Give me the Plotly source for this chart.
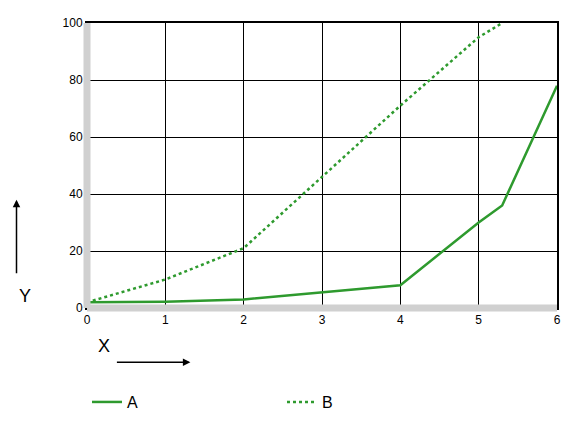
import plotly.graph_objects as go

# series A (solid) and B (dotted)
a_x = [0, 1, 2, 3, 4, 5, 5.3, 6]
a_y = [2, 2.2, 3, 5.5, 8, 30, 36, 78]
b_x = [0, 1, 2, 3, 4, 5, 5.3]
b_y = [2, 10, 21, 46, 71, 95, 100]

green = "#2e9a2e"

fig = go.Figure()
fig.add_trace(go.Scatter(x=a_x, y=a_y, mode="lines", name="A",
                         line=dict(color=green, width=2.5)))
fig.add_trace(go.Scatter(x=b_x, y=b_y, mode="lines", name="B",
                         line=dict(color=green, width=2.5, dash="dot")))

fig.update_xaxes(range=[0, 6], dtick=1, showgrid=True, gridcolor="black", gridwidth=1,
                 showline=True, linecolor="black", linewidth=2, mirror=True,
                 zeroline=False, tickfont=dict(size=12, family="Arial", color="black"), ticks="")
fig.update_yaxes(range=[0, 100], dtick=20, showgrid=True, gridcolor="black", gridwidth=1,
                 showline=True, linecolor="black", linewidth=2, mirror=True,
                 zeroline=False, tickfont=dict(size=12, family="Arial", color="black"), ticks="")

# light grey strips along left and bottom axes
fig.add_shape(type="line", xref="paper", yref="paper", x0=0, x1=0, y0=0, y1=1,
              line=dict(color="#d0d0d0", width=7))
fig.add_shape(type="line", xref="paper", yref="paper", x0=0, x1=1, y0=0, y1=0,
              line=dict(color="#d0d0d0", width=7))

fig.add_annotation(xref="paper", yref="paper", x=0.02, y=-0.175, text="X",
                   showarrow=False, font=dict(size=18, family="Arial", color="black"))
fig.add_annotation(xref="paper", yref="paper", x=0.22, y=-0.19, ax=-75, ay=0,
                   text="", showarrow=True, arrowhead=2, arrowsize=1, arrowwidth=1.5,
                   arrowcolor="black")
fig.add_annotation(xref="paper", yref="paper", x=-0.15, y=0.0, text="Y",
                   showarrow=False, font=dict(size=18, family="Arial", color="black"))
fig.add_annotation(xref="paper", yref="paper", x=-0.15, y=0.38, ax=0, ay=75,
                   text="", showarrow=True, arrowhead=2, arrowsize=1, arrowwidth=1.5,
                   arrowcolor="black")

fig.update_layout(
    width=570, height=425,
    margin=dict(l=79, r=21, t=8, b=125),
    plot_bgcolor="white", paper_bgcolor="white",
    legend=dict(orientation="h", x=0, y=-0.33, yanchor="middle", xanchor="left",
                entrywidth=150, font=dict(size=16, family="Arial", color="black")),
)

fig.write_html("out.html")
